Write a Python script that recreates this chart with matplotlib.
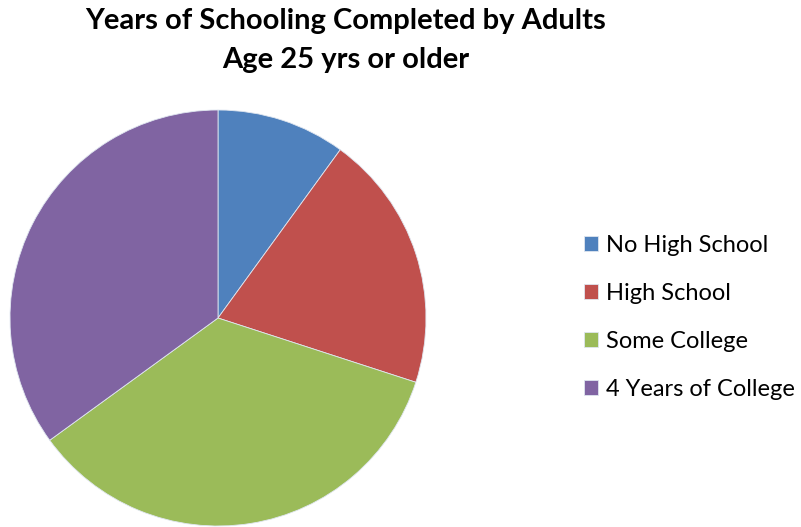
import matplotlib.pyplot as plt

## data
labels = ['No High School', 'High School', 'Some College', '4 Years of College']
shares = [10, 20, 35, 35]
colors = ['#4F81BD', '#C0504D', '#9BBB59', '#8064A2']

## figure
W, H = 801, 527
fig = plt.figure(figsize=(W / 100, H / 100), dpi=100)

# pie axes : centre (218,318) px, radius 208 px
cx, cy, r = 218, 318, 208
ax = fig.add_axes([(cx - r) / W, (H - cy - r) / H, 2 * r / W, 2 * r / H])
wedges, _ = ax.pie(shares, colors=colors, startangle=90, counterclock=False,
                   radius=1, wedgeprops=dict(edgecolor='#dfe6f0', linewidth=0.6))
ax.set_xlim(-1, 1)
ax.set_ylim(-1, 1)
ax.set_aspect('equal')
ax.axis('off')

# title
fig.text(346 / W, 1 - 21 / H, 'Years of Schooling Completed by Adults',
         ha='center', va='center', fontsize=21, fontweight='bold', family='Lato')
fig.text(346 / W, 1 - 60 / H, 'Age 25 yrs or older',
         ha='center', va='center', fontsize=21, fontweight='bold', family='Lato')

# legend
leg = fig.legend(wedges, labels, loc='upper left',
                 bbox_to_anchor=(584 / W, 1 - 235 / H),
                 frameon=False, prop={'family': 'Lato', 'size': 17},
                 handlelength=0.58, handleheight=0.58, handletextpad=0.36,
                 labelspacing=1.14, borderpad=0, borderaxespad=0)

fig.savefig('out.png', dpi=100)
